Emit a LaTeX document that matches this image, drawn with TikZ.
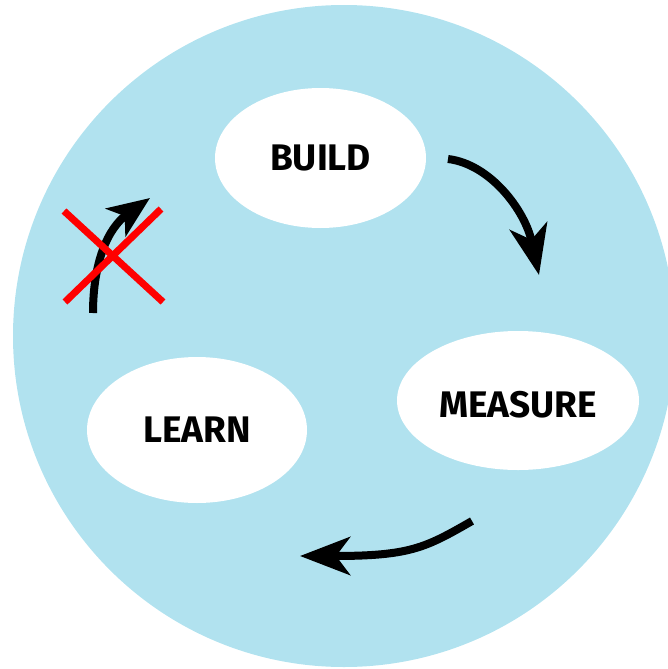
\documentclass[tikz,border=0pt]{standalone}
\usepackage{fontspec}
\setmainfont{Fira Sans}
\usepackage{tikz}
\usetikzlibrary{shapes.geometric,arrows.meta}
\definecolor{skyfill}{RGB}{177,226,239}
\definecolor{crossred}{RGB}{255,0,0}

\begin{document}
\begin{tikzpicture}[x=1pt,y=-1pt,
                    phase/.style={ellipse,fill=white,inner sep=0pt,
                                  font=\fontsize{37}{37}\selectfont\bfseries},
                    loop/.style={line width=8pt,
                                 -{Stealth[length=50pt,width=38pt,inset=14pt]}},
                    cross/.style={crossred,line width=7pt}]
    \useasboundingbox (0,0) rectangle (668,669);
    \clip (0,0) rectangle (668,669);
    \fill[skyfill] (344,336) circle (331pt);
    % the three phases
    \node[phase,minimum width=211pt,minimum height=140pt] (build) at (320.5,158) {BUILD};
    \node[phase,minimum width=242pt,minimum height=139pt] (measure) at (518,400.5) {};
    \node at ([yshift=-4pt]measure.center) [font=\fontsize{37}{37}\selectfont\bfseries] (measuretext) {MEASURE};
    \node[phase,minimum width=220pt,minimum height=146pt] (learn) at (197,430) {LEARN};
    % arrows between them
    \coordinate (b1) at (448,159);
    \coordinate (b2) at (539,275);
    \coordinate (m1) at (472,521);
    \coordinate (m2) at (300,556);
    \coordinate (l1) at (93,313);
    \coordinate (l2) at (150,198);
    \draw[loop] (b1) .. controls (490,164) and (525,210) .. (b2);
    \draw[loop] (m1) .. controls (425,548) and (410,556) .. (m2);
    \draw[loop,-{Stealth[length=42pt,width=34pt,inset=11pt]}] (l1) .. controls (93,262) and (108,228) .. (l2);
    % no way back
    \coordinate (x1) at (64,211);
    \coordinate (x2) at (163,302);
    \coordinate (x3) at (65,302);
    \coordinate (x4) at (161,209);
    \draw[cross] (x1) -- (x2);
    \draw[cross] (x3) -- (x4);
\end{tikzpicture}
\end{document}
